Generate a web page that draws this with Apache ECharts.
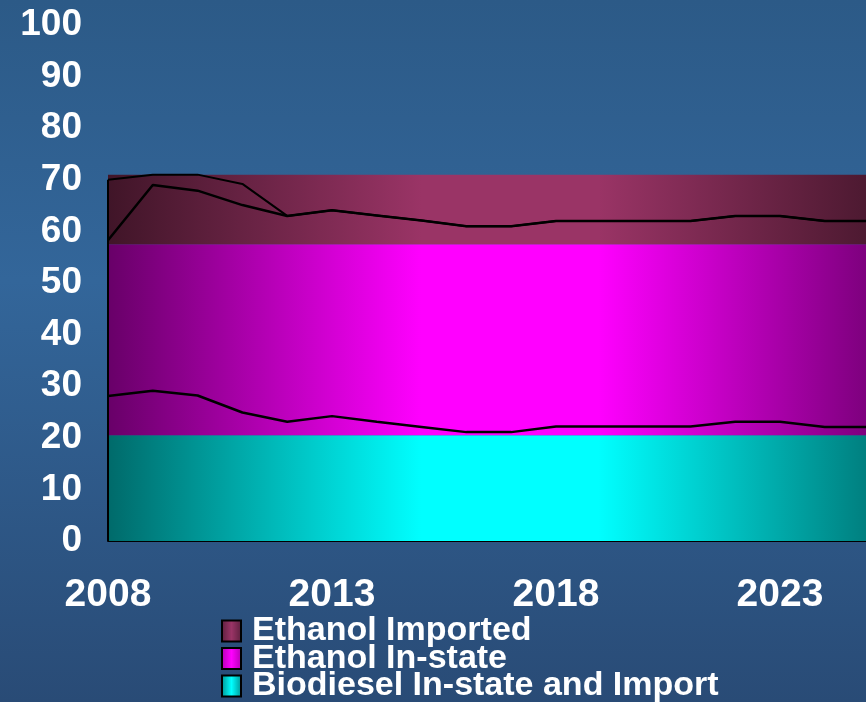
<!DOCTYPE html>
<html>
<head>
<meta charset="utf-8">
<script src="https://cdn.jsdelivr.net/npm/echarts@6/dist/echarts.min.js"></script>
<style>
html,body{margin:0;padding:0;overflow:hidden;width:866px;height:702px;}
#c{width:880px;height:702px;}
</style>
</head>
<body>
<div id="c"></div>
<script>
var years = ['2008','2009','2010','2011','2012','2013','2014','2015','2016','2017','2018','2019','2020','2021','2022','2023','2024','2025'];
// flat bands (stacked thickness)
var bandBiodiesel = [20.5,20.5,20.5,20.5,20.5,20.5,20.5,20.5,20.5,20.5,20.5,20.5,20.5,20.5,20.5,20.5,20.5,20.5];
var bandEthanolInState = [37,37,37,37,37,37,37,37,37,37,37,37,37,37,37,37,37,37];
var bandEthanolImported = [13.5,13.5,13.5,13.5,13.5,13.5,13.5,13.5,13.5,13.5,13.5,13.5,13.5,13.5,13.5,13.5,13.5,13.5];
// black lines
var lineTop = [70,71,71,69.2,63,64.1,63.1,62.1,61,61,62,62,62,62,63,63,62,62];
var lineMid = [58.3,69,67.9,65.1,63,64.1,63.1,62.1,61,61,62,62,62,62,63,63,62,62];
var lineLow = [28.1,29.1,28.2,24.9,23.1,24.2,23.1,22.1,21.1,21.1,22.2,22.2,22.2,22.2,23.1,23.1,22.1,22.1];
var yTicks = [0,10,20,30,40,50,60,70,80,90,100];
var legendNames = ['Ethanol Imported','Ethanol In-state','Biodiesel In-state and Import'];

function hgrad(dark, bright){
  return {type:'linear', x:108, y:0, x2:912, y2:0, global:true,
    colorStops:[{offset:0,color:dark},{offset:0.39,color:bright},{offset:0.61,color:bright},{offset:1,color:dark}]};
}
function lgrad(dark, bright){
  return {type:'linear', x:0, y:0, x2:1, y2:0,
    colorStops:[{offset:0,color:dark},{offset:0.5,color:bright},{offset:1,color:dark}]};
}
var cyanFill = hgrad('#006a6a','#00ffff');
var magFill = hgrad('#680068','#ff00ff');
var marFill = hgrad('#401528','#9a3466');

var chart = echarts.init(document.getElementById('c'), null, {renderer:'canvas'});
var font = '"Liberation Sans", Arial, sans-serif';
chart.setOption({
  animation:false,
  backgroundColor:{type:'linear',x:0,y:0,x2:0,y2:1,colorStops:[
    {offset:0,color:'#2c5a87'},{offset:0.4,color:'#33669a'},{offset:1,color:'#294b76'}]},
  grid:{left:108, right:10.4, top:25, bottom:161, containLabel:false},
  legend:{
    orient:'vertical', left:221, top:614, height:300, padding:0, itemGap:-6.5, itemWidth:19, itemHeight:21,
    icon:'rect',
    textStyle:{color:'#ffffff', fontFamily:font, fontWeight:'bold', fontSize:34, padding:[0,0,0,6]},
    data:[
      {name:legendNames[0], itemStyle:{color:lgrad('#5a1f3c','#9a3466'), borderColor:'#000', borderWidth:2}},
      {name:legendNames[1], itemStyle:{color:lgrad('#b000b0','#ff00ff'), borderColor:'#000', borderWidth:2}},
      {name:legendNames[2], itemStyle:{color:lgrad('#009090','#00ffff'), borderColor:'#000', borderWidth:2}}
    ]
  },
  xAxis:{
    type:'category', data:years, boundaryGap:false,
    axisLine:{show:true, lineStyle:{color:'#000', width:2}},
    axisTick:{show:false},
    axisLabel:{interval:4, color:'#fff', fontFamily:font, fontWeight:'bold', fontSize:39, margin:35},
    splitLine:{show:false}
  },
  yAxis:{
    type:'value', min:yTicks[0], max:yTicks[yTicks.length-1], interval:10,
    axisLine:{show:false}, axisTick:{show:false}, splitLine:{show:false},
    axisLabel:{color:'#fff', fontFamily:font, fontWeight:'bold', fontSize:37, margin:26}
  },
  series:[
    {name:legendNames[2], type:'line', stack:'b', data:bandBiodiesel, symbol:'none',
     lineStyle:{width:0}, areaStyle:{color:cyanFill, opacity:1}, itemStyle:{color:cyanFill}, z:1},
    {name:legendNames[1], type:'line', stack:'b', data:bandEthanolInState, symbol:'none',
     lineStyle:{width:0}, areaStyle:{color:magFill, opacity:1}, itemStyle:{color:magFill}, z:1},
    {name:legendNames[0], type:'line', stack:'b', data:bandEthanolImported, symbol:'none',
     lineStyle:{width:0}, areaStyle:{color:marFill, opacity:1}, itemStyle:{color:marFill}, z:1},
    {type:'line', data:lineTop, symbol:'none', lineStyle:{color:'#000', width:2}, z:5,
     markLine:{silent:true, symbol:'none', label:{show:false}, lineStyle:{color:'#000', width:2, type:'solid'},
       data:[[{coord:[years[0],0]},{coord:[years[0],lineTop[0]]}]]}},
    {type:'line', data:lineMid, symbol:'none', lineStyle:{color:'#000', width:2.5}, z:5},
    {type:'line', data:lineLow, symbol:'none', lineStyle:{color:'#000', width:2.5}, z:5}
  ]
});
</script>
</body>
</html>
